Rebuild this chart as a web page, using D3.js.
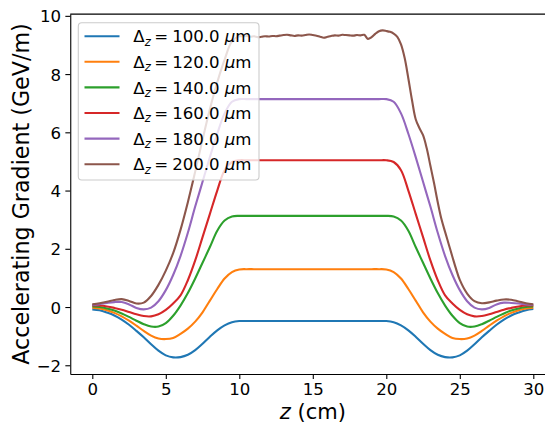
<!DOCTYPE html>
<html><head><meta charset="utf-8">
<script src="https://cdn.jsdelivr.net/npm/d3@7/dist/d3.min.js"></script>
<style>body{margin:0;background:#fff}svg{display:block}text{font-family:"DejaVu Sans",sans-serif}</style>
</head><body><svg id="c" width="545" height="423"></svg>
<script>
// ---- data ----
const zGrid = [0,0.5,1,1.5,2,2.5,3,3.5,4,4.5,5,5.5,6,6.5,7,7.5,8,8.5,9,9.5,10,
  10.5,11,11.5,12,12.5,13,13.5,14,14.5,15,15.5,16,16.5,17,17.5,18,18.5,19,19.5,
  20,20.5,21,21.5,22,22.5,23,23.5,24,24.5,25,25.5,26,26.5,27,27.5,28,28.5,29,29.5,30];

const g100 = [-0.08,-0.11,-0.19,-0.29,-0.43,-0.61,-0.82,-1.04,-1.28,-1.50,-1.66,-1.73,-1.72,-1.64,-1.48,-1.26,-1.02,-0.80,-0.63,-0.52,-0.48,
  -0.48,-0.48,-0.48,-0.48,-0.48,-0.48,-0.48,-0.48,-0.48,-0.48,-0.48,-0.48,-0.48,-0.48,-0.48,-0.48,-0.48,-0.48,-0.48,
  -0.48,-0.52,-0.63,-0.80,-1.02,-1.26,-1.48,-1.64,-1.72,-1.73,-1.66,-1.50,-1.28,-1.04,-0.82,-0.61,-0.43,-0.29,-0.19,-0.11,-0.07];

const g120 = [-0.02,-0.05,-0.11,-0.20,-0.32,-0.47,-0.64,-0.82,-0.98,-1.08,-1.10,-1.06,-0.92,-0.74,-0.50,-0.18,0.22,0.62,0.98,1.20,1.29,
  1.30,1.30,1.30,1.30,1.30,1.30,1.30,1.30,1.30,1.30,1.30,1.30,1.30,1.30,1.30,1.30,1.30,1.30,1.30,
  1.29,1.20,0.98,0.62,0.22,-0.18,-0.50,-0.74,-0.92,-1.06,-1.10,-1.08,-0.98,-0.82,-0.64,-0.47,-0.32,-0.20,-0.11,-0.05,-0.02];

const g140 = [0.02,0.00,-0.05,-0.12,-0.22,-0.34,-0.47,-0.59,-0.67,-0.67,-0.55,-0.30,0.05,0.48,0.98,1.52,2.06,2.62,2.97,3.11,3.13,
  3.13,3.13,3.13,3.13,3.13,3.13,3.13,3.13,3.13,3.13,3.13,3.13,3.13,3.13,3.13,3.13,3.13,3.13,3.13,
  3.13,3.11,2.97,2.62,2.06,1.52,0.98,0.48,0.05,-0.30,-0.55,-0.67,-0.67,-0.59,-0.47,-0.34,-0.22,-0.12,-0.05,0.00,0.02];

const g160 = [0.05,0.05,0.02,-0.03,-0.09,-0.17,-0.25,-0.31,-0.32,-0.25,-0.10,0.12,0.40,0.92,1.60,2.40,3.20,4.00,4.70,4.98,5.04,
  5.04,5.04,5.04,5.04,5.04,5.04,5.04,5.04,5.04,5.04,5.04,5.04,5.04,5.04,5.04,5.04,5.04,5.04,5.04,
  5.04,4.98,4.70,4.00,3.20,2.40,1.60,0.92,0.40,0.12,-0.10,-0.25,-0.32,-0.31,-0.25,-0.17,-0.09,-0.03,0.02,0.05,0.05];

const g180 = [0.07,0.10,0.14,0.17,0.17,0.09,-0.03,-0.08,-0.02,0.20,0.58,1.10,1.75,2.55,3.45,4.30,5.15,5.95,6.65,7.05,7.14,
  7.14,7.14,7.14,7.14,7.14,7.14,7.14,7.14,7.14,7.14,7.14,7.14,7.14,7.14,7.14,7.14,7.14,7.14,7.14,
  7.14,7.05,6.65,5.95,5.15,4.30,3.45,2.55,1.75,1.10,0.58,0.20,-0.02,-0.08,-0.03,0.09,0.15,0.14,0.12,0.09,0.07];

const z200 = [0,0.5,1,1.5,2,2.5,3,3.5,4,4.5,5,5.5,6,6.5,7,7.5,8,8.5,9,9.5,10,
  10.25,10.5,10.75,11,11.25,11.5,11.75,12,12.25,12.5,12.75,13,13.25,13.5,13.75,14,14.25,14.5,14.75,
  15,15.25,15.5,15.75,16,16.25,16.5,16.75,17,17.25,17.5,17.75,18,18.25,18.5,18.75,19,19.25,19.5,19.75,
  20,20.25,20.5,20.75,21,21.25,21.5,21.75,22,22.25,22.5,22.75,23,23.25,23.5,23.75,24,24.25,24.5,24.75,
  25,25.5,26,26.5,27,27.5,28,28.5,29,29.5,30];
const g200 = [0.09,0.13,0.18,0.24,0.27,0.21,0.12,0.15,0.38,0.76,1.25,1.85,2.65,3.60,4.65,5.75,6.80,7.72,8.50,9.12,9.30,
  9.29,9.31,9.28,9.30,9.27,9.28,9.30,9.29,9.31,9.30,9.32,9.34,9.35,9.33,9.31,9.33,9.32,9.34,9.36,
  9.34,9.32,9.28,9.25,9.28,9.31,9.33,9.32,9.35,9.34,9.33,9.32,9.34,9.33,9.35,9.21,9.27,9.38,9.47,9.50,
  9.48,9.45,9.39,9.28,9.02,8.55,7.85,7.10,6.45,6.15,5.90,5.45,4.85,4.25,3.60,3.02,2.58,2.15,1.72,1.30,
  0.93,0.46,0.20,0.13,0.16,0.22,0.26,0.25,0.19,0.13,0.09];

const labels = ["100.0","120.0","140.0","160.0","180.0","200.0"];
const colors = ["#1f77b4","#ff7f0e","#2ca02c","#d62728","#9467bd","#8c564b"];
const xTicks = [0,5,10,15,20,25,30];
const yTicks = [-2,0,2,4,6,8,10];

const seriesList = [
  {z: zGrid, v: g100}, {z: zGrid, v: g120}, {z: zGrid, v: g140},
  {z: zGrid, v: g160}, {z: zGrid, v: g180}, {z: z200, v: g200}
];

// ---- layout ----
const svg = d3.select("#c");
const L = 70.25, R = 555.35, T = 14.1, B = 374;
const x = d3.scaleLinear().domain([-1.5, 31.5]).range([L, R]);
const y = d3.scaleLinear().domain([-2.30, 10.06]).range([B, T]);

const line = d3.line().x(d => x(d[0])).y(d => y(d[1])).curve(d3.curveCatmullRom.alpha(0.5));

const plot = svg.append("g");
seriesList.forEach((s, i) => {
  const pts = s.z.map((zz, k) => [zz, s.v[k]]);
  plot.append("path").attr("d", line(pts)).attr("fill", "none")
    .attr("stroke", colors[i]).attr("stroke-width", 2.1).attr("stroke-linejoin","round");
});

// spines
const sw = 1.1;
svg.append("line").attr("x1", L).attr("x2", R).attr("y1", T).attr("y2", T).attr("stroke", "#000").attr("stroke-width", sw);
svg.append("line").attr("x1", R).attr("x2", R).attr("y1", T).attr("y2", B).attr("stroke", "#000").attr("stroke-width", sw);

const fs = 16.6;
const xAxis = svg.append("g").attr("transform", `translate(0,${B})`)
  .call(d3.axisBottom(x).tickValues(xTicks).tickSize(4.9).tickSizeOuter(0).tickPadding(4).tickFormat(d3.format("d")));
const yAxis = svg.append("g").attr("transform", `translate(${L},0)`)
  .call(d3.axisLeft(y).tickValues(yTicks).tickSize(4.9).tickSizeOuter(0).tickPadding(4.2).tickFormat(d3.format("d")));
[xAxis, yAxis].forEach(a => {
  a.selectAll("path.domain").attr("stroke", "#000").attr("stroke-width", sw);
  a.selectAll(".tick line").attr("stroke", "#000").attr("stroke-width", sw);
  a.selectAll(".tick text").attr("fill", "#000").style("font-size", fs + "px").style("font-family", "DejaVu Sans");
});
yAxis.selectAll(".tick text").attr("dy", "0.36em");

// axis labels
const xl = svg.append("text").attr("x", (L + R) / 2).attr("y", 418.5).attr("text-anchor", "middle")
  .style("font-size", "21px");
xl.append("tspan").attr("font-style", "italic").text("z");
xl.append("tspan").text(" (cm)");
svg.append("text").attr("transform", `translate(29,${(T + B) / 2}) rotate(-90)`).attr("text-anchor", "middle")
  .style("font-size", "22.2px").text("Accelerating Gradient (GeV/m)");

// legend
const lg = svg.append("g");
lg.append("rect").attr("x", 78.3).attr("y", 22.7).attr("width", 180.7).attr("height", 157.3)
  .attr("rx", 3.5).attr("fill", "#fff").attr("fill-opacity", 0.8).attr("stroke", "#cccccc").attr("stroke-width", 1.1);
labels.forEach((lab, i) => {
  const cy = 36.2 + i * 25.6;
  lg.append("line").attr("x1", 84.5).attr("x2", 119.5).attr("y1", cy).attr("y2", cy)
    .attr("stroke", colors[i]).attr("stroke-width", 2.1);
  const t = lg.append("text").attr("x", 133.3).attr("y", cy + 6.2).style("font-size", fs + "px");
  t.append("tspan").text("\u0394");
  t.append("tspan").attr("font-style", "italic").style("font-size", "11.6px").attr("dy", 3.2).text("z");
  t.append("tspan").attr("dy", -3.2).attr("dx", 3.5).text("=");
  t.append("tspan").attr("dx", 4).text(lab);
  t.append("tspan").attr("dx", 5).attr("font-style", "italic").text("\u03bc");
  t.append("tspan").text("m");
});
</script></body></html>
